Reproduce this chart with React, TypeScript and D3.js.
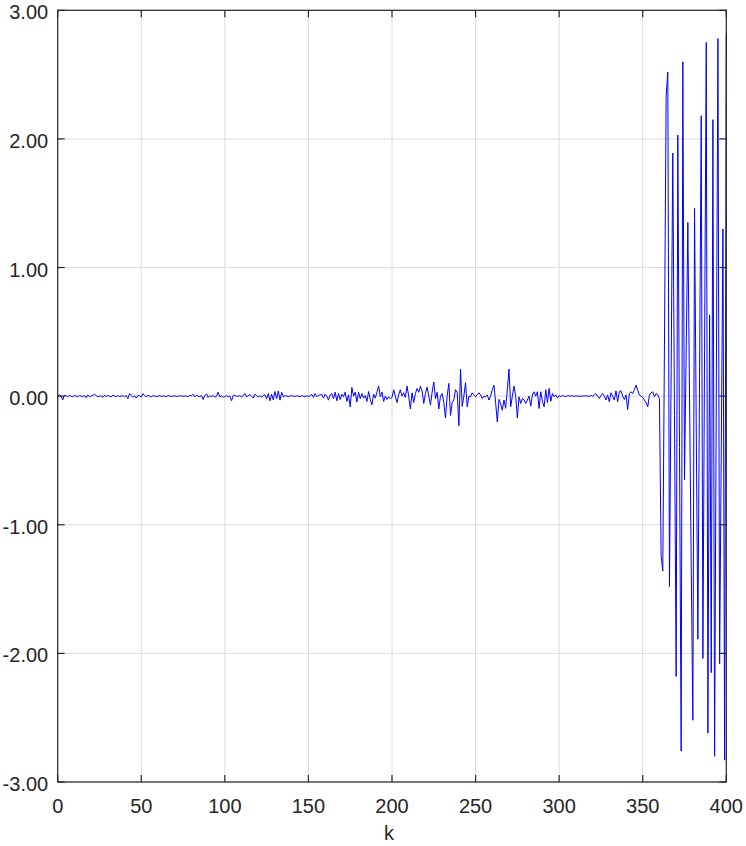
import React from "react";
import * as d3 from "d3";

const xTicks = [0, 50, 100, 150, 200, 250, 300, 350, 400];
const yTicks = [-3, -2, -1, 0, 1, 2, 3];
const xLabel = "k";

// series values, one per k = 0..400
const seriesA = [
  0.000, 0.010, 0.000, -0.030, 0.008, 0.002, -0.004, 0.006, 0.000, -0.005,
  0.004, 0.002, -0.006, 0.005, 0.000, -0.004, 0.006, -0.012, 0.010, -0.004,
  0.002, 0.006, 0.015, 0.004, -0.006, 0.002, 0.000, -0.008, 0.006, -0.002,
  0.004, 0.000, -0.006, 0.008, 0.002, -0.004, 0.004, -0.002, 0.000, 0.004,
  -0.004, 0.006, -0.020, 0.020, 0.004, -0.008, 0.002, -0.015, 0.006, 0.002,
  -0.006, 0.020, 0.004, -0.004, 0.006, 0.000, -0.006, 0.004, 0.002, -0.004,
  0.000, 0.004, -0.002, 0.002, 0.000, -0.004, 0.004, 0.002, -0.002, 0.000,
  0.004, -0.004, 0.002, 0.000, 0.004, -0.002, 0.002, 0.000, -0.004, 0.006,
  0.002, 0.015, -0.006, 0.008, 0.000, -0.004, 0.006, -0.026, 0.004, 0.018,
  -0.010, 0.004, -0.004, 0.006, -0.008, 0.000, 0.031, -0.006, 0.002, -0.010,
];
const seriesB = [
  -0.004, 0.004, -0.005, 0.002, -0.036, 0.006, 0.006, -0.002, 0.000, 0.004,
  -0.005, 0.004, 0.020, -0.005, 0.004, 0.010, 0.000, -0.015, 0.015, 0.002,
  -0.005, 0.004, -0.010, 0.006, 0.010, -0.020, 0.020, -0.036, 0.015, -0.030,
  0.036, -0.020, 0.041, -0.031, 0.030, -0.005, 0.004, 0.000, -0.004, 0.002,
  0.004, 0.000, -0.002, 0.002, 0.000, -0.004, 0.004, 0.000, -0.002, 0.002,
  0.000, 0.000, 0.015, -0.010, 0.020, -0.005, 0.005, 0.010, 0.015, -0.015,
  0.015, 0.000, -0.031, 0.010, 0.020, -0.020, 0.031, -0.036, 0.020, -0.026,
  0.015, -0.005, 0.031, -0.041, 0.010, -0.083, 0.067, 0.000, 0.031, -0.046,
  0.031, -0.020, 0.020, -0.015, 0.005, -0.041, 0.036, -0.026, -0.067, 0.015,
  -0.015, 0.031, 0.078, -0.005, 0.031, -0.041, 0.000, -0.026, -0.005, -0.020,
];
const seriesC = [
  -0.010, 0.050, 0.000, -0.050, 0.010, 0.050, 0.000, 0.026, -0.010, 0.078,
  0.000, -0.100, 0.026, -0.050, 0.020, 0.060, 0.030, 0.078, 0.040, -0.057,
  0.020, 0.070, 0.000, -0.070, 0.030, 0.110, -0.020, 0.030, -0.100, 0.000,
  0.020, -0.050, -0.170, 0.000, 0.100, -0.150, -0.050, -0.030, 0.050, 0.030,
  -0.230, 0.210, -0.080, 0.000, 0.106, -0.083, 0.000, -0.005, 0.026, 0.010,
  -0.005, 0.010, 0.026, 0.010, -0.018, 0.000, -0.005, 0.010, -0.030, 0.000,
  0.050, 0.085, -0.050, -0.200, -0.025, -0.060, -0.110, -0.030, -0.095, 0.050,
  0.210, -0.083, 0.000, 0.078, 0.000, -0.170, -0.005, -0.057, -0.018, -0.030,
  -0.057, -0.030, 0.000, -0.078, 0.010, 0.034, 0.000, 0.034, -0.096, 0.034,
  -0.040, -0.083, 0.050, -0.050, 0.060, -0.040, 0.020, -0.005, 0.010, -0.013,
];
const seriesD = [
  0.004, -0.004, 0.006, 0.000, -0.004, 0.004, 0.002, 0.000, 0.004, -0.002,
  0.002, 0.000, 0.000, -0.002, 0.002, 0.000, 0.004, 0.000, -0.002, 0.006,
  0.000, 0.008, 0.020, 0.000, -0.018, 0.005, 0.020, 0.000, -0.030, 0.010,
  -0.044, 0.026, 0.000, -0.030, 0.041, -0.044, 0.034, 0.041, 0.000, -0.026,
  0.010, -0.104, 0.020, 0.034, 0.020, 0.050, 0.085, 0.047, 0.008, 0.000,
  -0.010, -0.031, -0.050, -0.083, 0.008, 0.026, 0.034, -0.005, 0.020, 0.010,
  -0.020, -1.24, -1.36, 0.40, 2.33, 2.52, -1.48, 0.20, 1.89, -0.15,
  -2.18, 2.03, -0.40, -2.76, 2.60, -0.65, 0.35, 1.35, 0.00, -1.30,
  -2.52, 1.46, -0.20, -1.89, 0.15, 2.18, -2.04, 0.35, 2.75, -2.62,
  0.63, -2.15, 2.15, -2.80, 0.00, 2.78, -2.08, -0.40, 1.30, -2.83,
  2.82,
];

const values = [...seriesA, ...seriesB, ...seriesC, ...seriesD];

const W = 746;
const H = 846;
const left = 57.7;
const right = 726.3;
const top = 10.3;
const bottom = 782;
const FONT = "'Liberation Sans', Arial, sans-serif";

const fmt = (t: number) => d3.format(".2f")(t).replace("\u2212", "-");

export default function App() {
  const x = d3.scaleLinear().domain([0, 400]).range([left, right]);
  const y = d3.scaleLinear().domain([-3, 3]).range([bottom, top]);
  const line = d3
    .line<number>()
    .x((_, i) => x(i))
    .y((d) => y(d));
  const tl = 7;
  const axisColor = "#262626";
  return (
    <svg
      width={W}
      height={H}
      style={{ position: "absolute", left: 0, top: 0, background: "#fff" }}
    >
      <rect x={0} y={0} width={W} height={H} fill="#fff" />
      {xTicks.map((t) => (
        <line key={"gx" + t} x1={x(t)} x2={x(t)} y1={top} y2={bottom} stroke="#dcdcdc" strokeWidth={1} />
      ))}
      {yTicks.map((t) => (
        <line key={"gy" + t} x1={left} x2={right} y1={y(t)} y2={y(t)} stroke="#dcdcdc" strokeWidth={1} />
      ))}
      <defs>
        <clipPath id="plotclip">
          <rect x={left} y={top - 2} width={right - left + 1} height={bottom - top + 4} />
        </clipPath>
      </defs>
      <path
        d={line(values) || ""}
        fill="none"
        stroke="#0000ff"
        strokeWidth={1}
        strokeLinejoin="round"
        clipPath="url(#plotclip)"
      />
      <rect x={left} y={top} width={right - left} height={bottom - top} fill="none" stroke={axisColor} strokeWidth={1.2} />
      {xTicks.map((t) => (
        <g key={"tx" + t}>
          <line x1={x(t)} x2={x(t)} y1={bottom} y2={bottom - tl} stroke={axisColor} strokeWidth={1.2} />
          <line x1={x(t)} x2={x(t)} y1={top} y2={top + tl} stroke={axisColor} strokeWidth={1.2} />
          <text x={x(t)} y={bottom + 31} textAnchor="middle" fontFamily={FONT} fontSize={20} fill="#262626">
            {t}
          </text>
        </g>
      ))}
      {yTicks.map((t) => (
        <g key={"ty" + t}>
          <line x1={left} x2={left + tl} y1={y(t)} y2={y(t)} stroke={axisColor} strokeWidth={1.2} />
          <line x1={right} x2={right - tl} y1={y(t)} y2={y(t)} stroke={axisColor} strokeWidth={1.2} />
          <text x={left - 9.5} y={y(t) + 9} textAnchor="end" fontFamily={FONT} fontSize={20} fill="#262626">
            {fmt(t)}
          </text>
        </g>
      ))}
      <text x={(left + right) / 2 - 3} y={840} textAnchor="middle" fontFamily={FONT} fontSize={20} fill="#262626">
        {xLabel}
      </text>
    </svg>
  );
}
